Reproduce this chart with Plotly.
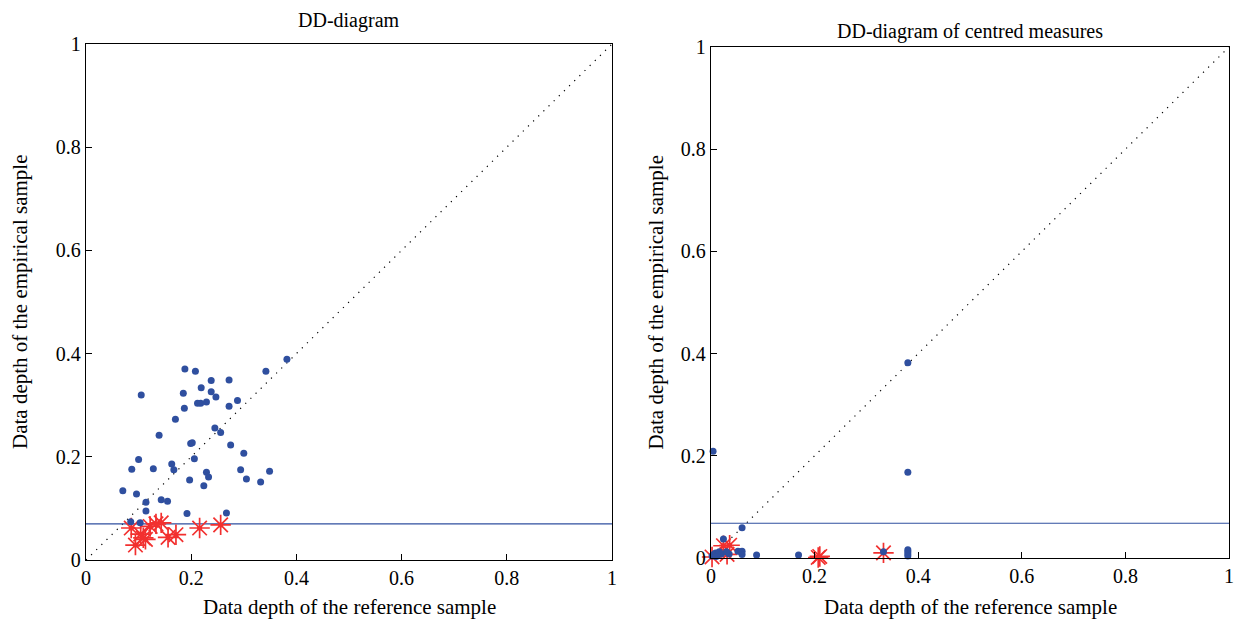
import plotly.graph_objects as go

# ---------------- data ----------------
left_blue_x = [0.382, 0.188, 0.208, 0.342, 0.105, 0.238, 0.272, 0.185, 0.219, 0.238, 0.247, 0.187,
               0.212, 0.218, 0.229, 0.288, 0.272, 0.170, 0.139, 0.245, 0.256, 0.199, 0.202, 0.275,
               0.300, 0.100, 0.206, 0.087, 0.128, 0.163, 0.167, 0.294, 0.349, 0.229, 0.233, 0.305,
               0.197, 0.332, 0.224, 0.070, 0.096, 0.143, 0.155, 0.114, 0.114, 0.192, 0.267, 0.085,
               0.103]
left_blue_y = [0.389, 0.370, 0.366, 0.366, 0.320, 0.348, 0.349, 0.323, 0.334, 0.326, 0.316, 0.294,
               0.304, 0.304, 0.306, 0.309, 0.298, 0.273, 0.242, 0.256, 0.247, 0.226, 0.227, 0.223,
               0.207, 0.195, 0.196, 0.176, 0.177, 0.186, 0.175, 0.175, 0.172, 0.170, 0.161, 0.157,
               0.155, 0.151, 0.144, 0.134, 0.128, 0.117, 0.114, 0.112, 0.095, 0.090, 0.091, 0.074,
               0.072]
left_red_x = [0.086, 0.094, 0.104, 0.109, 0.113, 0.122, 0.133, 0.143, 0.156, 0.171, 0.216, 0.256]
left_red_y = [0.062, 0.029, 0.050, 0.043, 0.040, 0.065, 0.070, 0.072, 0.044, 0.049, 0.062, 0.068]
left_threshold = 0.070

right_blue_x = [0.004, 0.380, 0.380, 0.060, 0.024, 0.002, 0.006, 0.009, 0.013, 0.016, 0.020, 0.035,
                0.052, 0.058, 0.060, 0.060, 0.088, 0.169, 0.333, 0.380, 0.380, 0.380, 0.380, 0.010,
                0.030]
right_blue_y = [0.209, 0.382, 0.168, 0.059, 0.037, 0.004, 0.008, 0.010, 0.006, 0.012, 0.008, 0.008,
                0.013, 0.012, 0.013, 0.007, 0.006, 0.006, 0.012, 0.016, 0.012, 0.008, 0.004, 0.003,
                0.012]
right_red_x = [0.002, 0.024, 0.036, 0.031, 0.210, 0.207, 0.333]
right_red_y = [0.002, 0.024, 0.025, 0.007, 0.003, 0.001, 0.010]
right_threshold = 0.068

tick_vals = [0, 0.2, 0.4, 0.6, 0.8, 1]
tick_text = ["0", "0.2", "0.4", "0.6", "0.8", "1"]
titles = ["DD-diagram", "DD-diagram of centred measures"]
x_label = "Data depth of the reference sample"
y_label = "Data depth of the empirical sample"

# ---------------- styling ----------------
W, H = 1234, 622
FONT = "Liberation Serif"
BLUE = "#2f4f9f"
RED = "#f2302f"

def px_x(p):
    return p / W

def px_y(p):
    return 1 - p / H

panels = [
    dict(xd=[px_x(86), px_x(612)], yd=[px_y(560), px_y(44)],
         bx=left_blue_x, by=left_blue_y, rx=left_red_x, ry=left_red_y, thr=left_threshold,
         title_y=20, ylab_x=20, xlab_y=607),
    dict(xd=[px_x(711), px_x(1229)], yd=[px_y(558), px_y(47)],
         bx=right_blue_x, by=right_blue_y, rx=right_red_x, ry=right_red_y, thr=right_threshold,
         title_y=31, ylab_x=655, xlab_y=607),
]

fig = go.Figure()
layout = dict(
    width=W, height=H, margin=dict(l=0, r=0, t=0, b=0),
    paper_bgcolor="white", plot_bgcolor="white", showlegend=False,
    font=dict(family=FONT, size=18, color="black"),
)
annotations = []

for i, p in enumerate(panels):
    xa = "x" if i == 0 else "x2"
    ya = "y" if i == 0 else "y2"
    # diagonal
    fig.add_trace(go.Scatter(x=[0, 1], y=[0, 1], mode="lines", xaxis=xa, yaxis=ya,
                             line=dict(color="black", width=1.2, dash="1.2px,6px"),
                             hoverinfo="skip"))
    # threshold
    fig.add_trace(go.Scatter(x=[0, 1], y=[p["thr"], p["thr"]], mode="lines", xaxis=xa, yaxis=ya,
                             line=dict(color=BLUE, width=1.2), hoverinfo="skip"))
    # red stars
    fig.add_trace(go.Scatter(x=p["rx"], y=p["ry"], mode="markers", xaxis=xa, yaxis=ya,
                             cliponaxis=False,
                             marker=dict(symbol="asterisk-open", size=17,
                                         line=dict(color=RED, width=1.7), color=RED)))
    fig.add_trace(go.Scatter(x=p["rx"], y=p["ry"], mode="markers", xaxis=xa, yaxis=ya,
                             cliponaxis=False,
                             marker=dict(symbol="circle", size=5, color=RED)))
    # blue dots
    fig.add_trace(go.Scatter(x=p["bx"], y=p["by"], mode="markers", xaxis=xa, yaxis=ya,
                             cliponaxis=False,
                             marker=dict(symbol="circle", size=7, color=BLUE)))

    axis_common = dict(range=[0, 1], tickvals=tick_vals, ticktext=tick_text,
                       showgrid=False, zeroline=False, showline=True, mirror=True,
                       linecolor="black", linewidth=1.3, ticks="inside", ticklen=6,
                       tickcolor="black", tickwidth=1, automargin=False,
                       tickfont=dict(family=FONT, size=20, color="black"), fixedrange=True)
    layout["xaxis" if i == 0 else "xaxis2"] = dict(axis_common, domain=p["xd"], anchor=ya)
    layout["yaxis" if i == 0 else "yaxis2"] = dict(axis_common, domain=p["yd"], anchor=xa)

    cx = (p["xd"][0] + p["xd"][1]) / 2
    cy = (p["yd"][0] + p["yd"][1]) / 2
    annotations.append(dict(text=titles[i], x=cx, y=px_y(p["title_y"]), xref="paper", yref="paper",
                            showarrow=False, xanchor="center", yanchor="middle",
                            font=dict(family=FONT, size=20, color="black")))
    annotations.append(dict(text=x_label, x=cx, y=px_y(p["xlab_y"]), xref="paper", yref="paper",
                            showarrow=False, xanchor="center", yanchor="middle",
                            font=dict(family=FONT, size=21, color="black")))
    annotations.append(dict(text=y_label, x=px_x(p["ylab_x"]), y=cy, xref="paper", yref="paper",
                            showarrow=False, xanchor="center", yanchor="middle", textangle=-90,
                            font=dict(family=FONT, size=21, color="black")))

layout["annotations"] = annotations
fig.update_layout(**layout)
fig.write_html("out.html")
